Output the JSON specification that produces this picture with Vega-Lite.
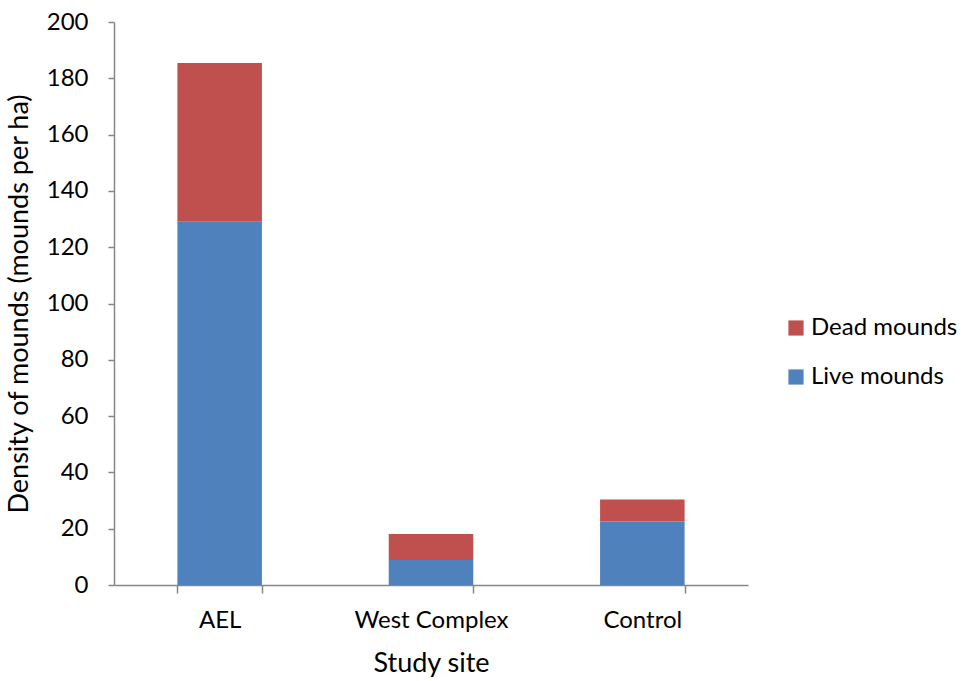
{
  "$schema": "https://vega.github.io/schema/vega-lite/v6.json",
  "autosize": "none",
  "width": 634,
  "height": 563,
  "padding": {"left": 114, "top": 22, "right": 216, "bottom": 96},
  "background": "white",
  "config": {
    "view": {"stroke": null},
    "font": "Lato",
    "axis": {
      "domainColor": "#868686",
      "domainWidth": 1.5,
      "tickColor": "#868686",
      "tickWidth": 1.5,
      "labelColor": "#000000",
      "titleColor": "#000000",
      "labelFont": "Lato",
      "titleFont": "Lato",
      "labelFontSize": 24,
      "titleFontSize": 27,
      "titleFontWeight": "normal",
      "grid": false
    },
    "legend": {
      "labelFont": "Lato",
      "labelFontSize": 24,
      "labelColor": "#000000"
    }
  },
  "data": {
    "values": [
      {"site": "AEL", "status": "Live mounds", "density": 129},
      {"site": "AEL", "status": "Dead mounds", "density": 56.4},
      {"site": "West Complex", "status": "Live mounds", "density": 8.9},
      {"site": "West Complex", "status": "Dead mounds", "density": 9.2},
      {"site": "Control", "status": "Live mounds", "density": 22.6},
      {"site": "Control", "status": "Dead mounds", "density": 7.8}
    ]
  },
  "mark": {"type": "bar"},
  "encoding": {
    "x": {
      "field": "site",
      "type": "nominal",
      "sort": ["AEL", "West Complex", "Control"],
      "scale": {"paddingInner": 0.6, "paddingOuter": 0.3},
      "axis": {
        "title": "Study site",
        "labelAngle": 0,
        "tickBand": "extent",
        "tickSize": 8,
        "labelPadding": 15,
        "titlePadding": 18
      }
    },
    "y": {
      "field": "density",
      "type": "quantitative",
      "stack": "zero",
      "scale": {"domain": [0, 200], "nice": false},
      "axis": {
        "title": "Density of mounds (mounds per ha)",
        "values": [0, 20, 40, 60, 80, 100, 120, 140, 160, 180, 200],
        "tickSize": 6,
        "labelPadding": 20,
        "titlePadding": 13
      }
    },
    "color": {
      "field": "status",
      "type": "nominal",
      "scale": {
        "domain": ["Dead mounds", "Live mounds"],
        "range": ["#C0504D", "#4F81BD"]
      },
      "legend": {
        "title": null,
        "orient": "none",
        "legendX": 670,
        "legendY": 294,
        "symbolType": "square",
        "symbolSize": 230,
        "symbolStrokeWidth": 0,
        "rowPadding": 25,
        "labelOffset": 3
      }
    },
    "order": {"field": "status", "sort": "descending"}
  }
}
